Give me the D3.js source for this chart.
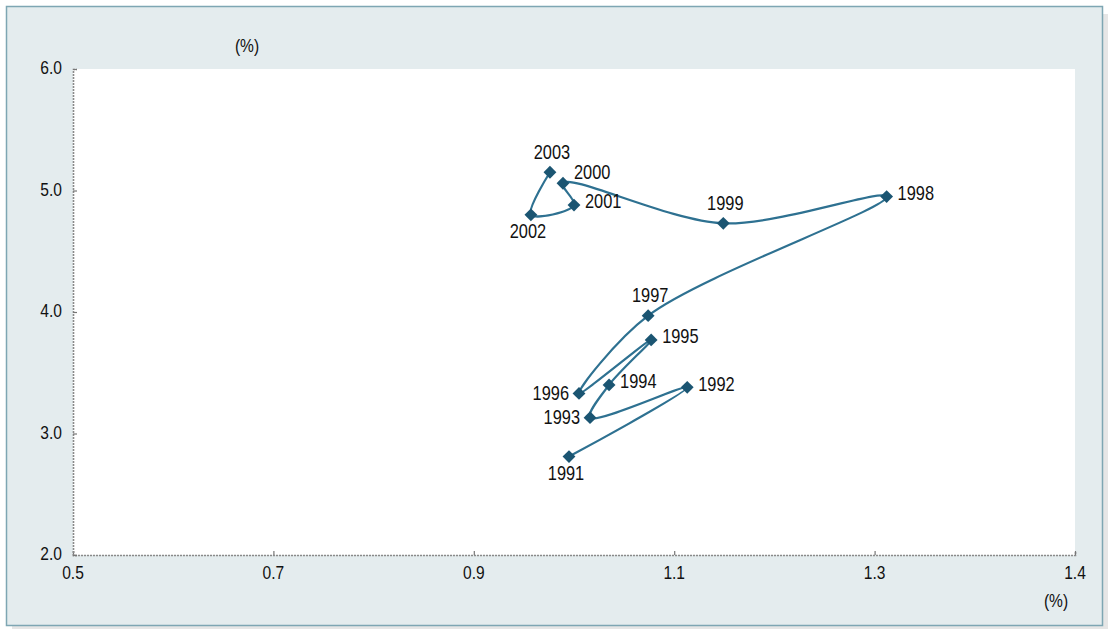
<!DOCTYPE html>
<html>
<head>
<meta charset="utf-8">
<script src="https://cdn.jsdelivr.net/npm/d3@7"></script>
<style>
  html, body { margin: 0; padding: 0; background: #ffffff; }
  svg text { font-family: "Liberation Sans", Arial, sans-serif; fill: #111; }
</style>
</head>
<body>
<div id="chart"></div>
<script>
// Path of points year by year (x %, y %)
const years = [1991, 1992, 1993, 1994, 1995, 1996, 1997, 1998, 1999, 2000, 2001, 2002, 2003];
const xValues = [0.995, 1.113, 1.016, 1.035, 1.077, 1.005, 1.074, 1.312, 1.149, 0.989, 1.000, 0.957, 0.976];
const yValues = [2.81, 3.38, 3.13, 3.40, 3.77, 3.33, 3.97, 4.95, 4.73, 5.06, 4.88, 4.80, 5.15];
const labelSide = ['below', 'right', 'left', 'right', 'right', 'left', 'above', 'right', 'above', 'aboveRight', 'right', 'below', 'above'];

const xTickValues = [0.5, 0.7, 0.9, 1.1, 1.3, 1.5];
const xTickLabels = ['0.5', '0.7', '0.9', '1.1', '1.3', '1.4'];
const yTickValues = [2, 3, 4, 5, 6];
const yTickLabels = ['2.0', '3.0', '4.0', '5.0', '6.0'];

const W = 1108, H = 629;
const plot = { left: 73, right: 1075, top: 69, bottom: 555 };
const squeeze = 0.82; // the original type is a narrow face

const svg = d3.select('#chart').append('svg')
    .attr('width', W)
    .attr('height', H);

// draw narrow text at (px, py)
function narrowText(sel, px, py) {
    return sel.attr('transform', (d, i) => `translate(${px(d, i)},${py(d, i)}) scale(${squeeze},1)`);
}

// shadow + panel
svg.append('rect')
    .attr('x', 12).attr('y', 14).attr('width', 1096).attr('height', 615)
    .attr('fill', '#e6e6e6');
svg.append('rect')
    .attr('x', 6.5).attr('y', 6.5).attr('width', 1096).attr('height', 619)
    .attr('fill', '#e4ecee')
    .attr('stroke', '#7ea6b3')
    .attr('stroke-width', 1.5);

svg.append('rect')
    .attr('x', plot.left).attr('y', plot.top)
    .attr('width', plot.right - plot.left).attr('height', plot.bottom - plot.top)
    .attr('fill', '#ffffff');

const x = d3.scaleLinear().domain([0.5, 1.5]).range([plot.left, plot.right]);
const y = d3.scaleLinear().domain([2, 6]).range([plot.bottom, plot.top]);

// axes
const xAxis = svg.append('g')
    .attr('transform', `translate(0,${plot.bottom})`)
    .call(d3.axisTop(x).tickValues(xTickValues).tickSize(4).tickFormat(''));
const yAxis = svg.append('g')
    .attr('transform', `translate(${plot.left},0)`)
    .call(d3.axisRight(y).tickValues(yTickValues).tickSize(4).tickFormat(''));

[xAxis, yAxis].forEach(g => {
    g.select('.domain')
        .attr('stroke', '#8a8a8a')
        .attr('stroke-width', 1.6)
        .attr('stroke-dasharray', '2,1');
    g.selectAll('.tick line').attr('stroke', '#777').attr('stroke-width', 1.2);
});

svg.append('g').selectAll('text')
    .data(xTickValues)
    .join('text')
    .call(narrowText, d => x(d), () => plot.bottom + 19)
    .attr('text-anchor', 'middle')
    .attr('dominant-baseline', 'middle')
    .attr('font-size', 19)
    .text((d, i) => xTickLabels[i]);

svg.append('g').selectAll('text')
    .data(yTickValues)
    .join('text')
    .call(narrowText, () => plot.left - 11, d => y(d))
    .attr('text-anchor', 'end')
    .attr('dominant-baseline', 'middle')
    .attr('font-size', 19)
    .text((d, i) => yTickLabels[i]);

svg.append('text')
    .attr('transform', `translate(247,47) scale(${squeeze},1)`)
    .attr('text-anchor', 'middle')
    .attr('dominant-baseline', 'middle')
    .attr('font-size', 19)
    .text('(%)');

svg.append('text')
    .attr('transform', `translate(1056,602) scale(${squeeze},1)`)
    .attr('text-anchor', 'middle')
    .attr('dominant-baseline', 'middle')
    .attr('font-size', 19)
    .text('(%)');

const points = years.map((yr, i) => ({ year: yr, x: xValues[i], y: yValues[i], side: labelSide[i] }));

const line = d3.line()
    .x(d => x(d.x))
    .y(d => y(d.y))
    .curve(d3.curveCatmullRom.alpha(0.5));

svg.append('path')
    .datum(points)
    .attr('d', line)
    .attr('fill', 'none')
    .attr('stroke', '#2e7191')
    .attr('stroke-width', 2.2);

svg.append('g').selectAll('path')
    .data(points)
    .join('path')
    .attr('transform', d => `translate(${x(d.x)},${y(d.y)})`)
    .attr('d', d3.symbol().type(d3.symbolDiamond2).size(105))
    .attr('fill', '#1b5572');

// label offsets by side
const offsets = {
    right: { dx: 11, dy: -2, anchor: 'start' },
    left: { dx: -10, dy: 1, anchor: 'end' },
    above: { dx: 2, dy: -19, anchor: 'middle' },
    below: { dx: -3, dy: 18, anchor: 'middle' },
    aboveRight: { dx: 11, dy: -9, anchor: 'start' }
};

svg.append('g').selectAll('text')
    .data(points)
    .join('text')
    .call(narrowText, d => x(d.x) + offsets[d.side].dx, d => y(d.y) + offsets[d.side].dy)
    .attr('text-anchor', d => offsets[d.side].anchor)
    .attr('dominant-baseline', 'middle')
    .attr('font-size', 20)
    .text(d => d.year);
</script>
</body>
</html>
